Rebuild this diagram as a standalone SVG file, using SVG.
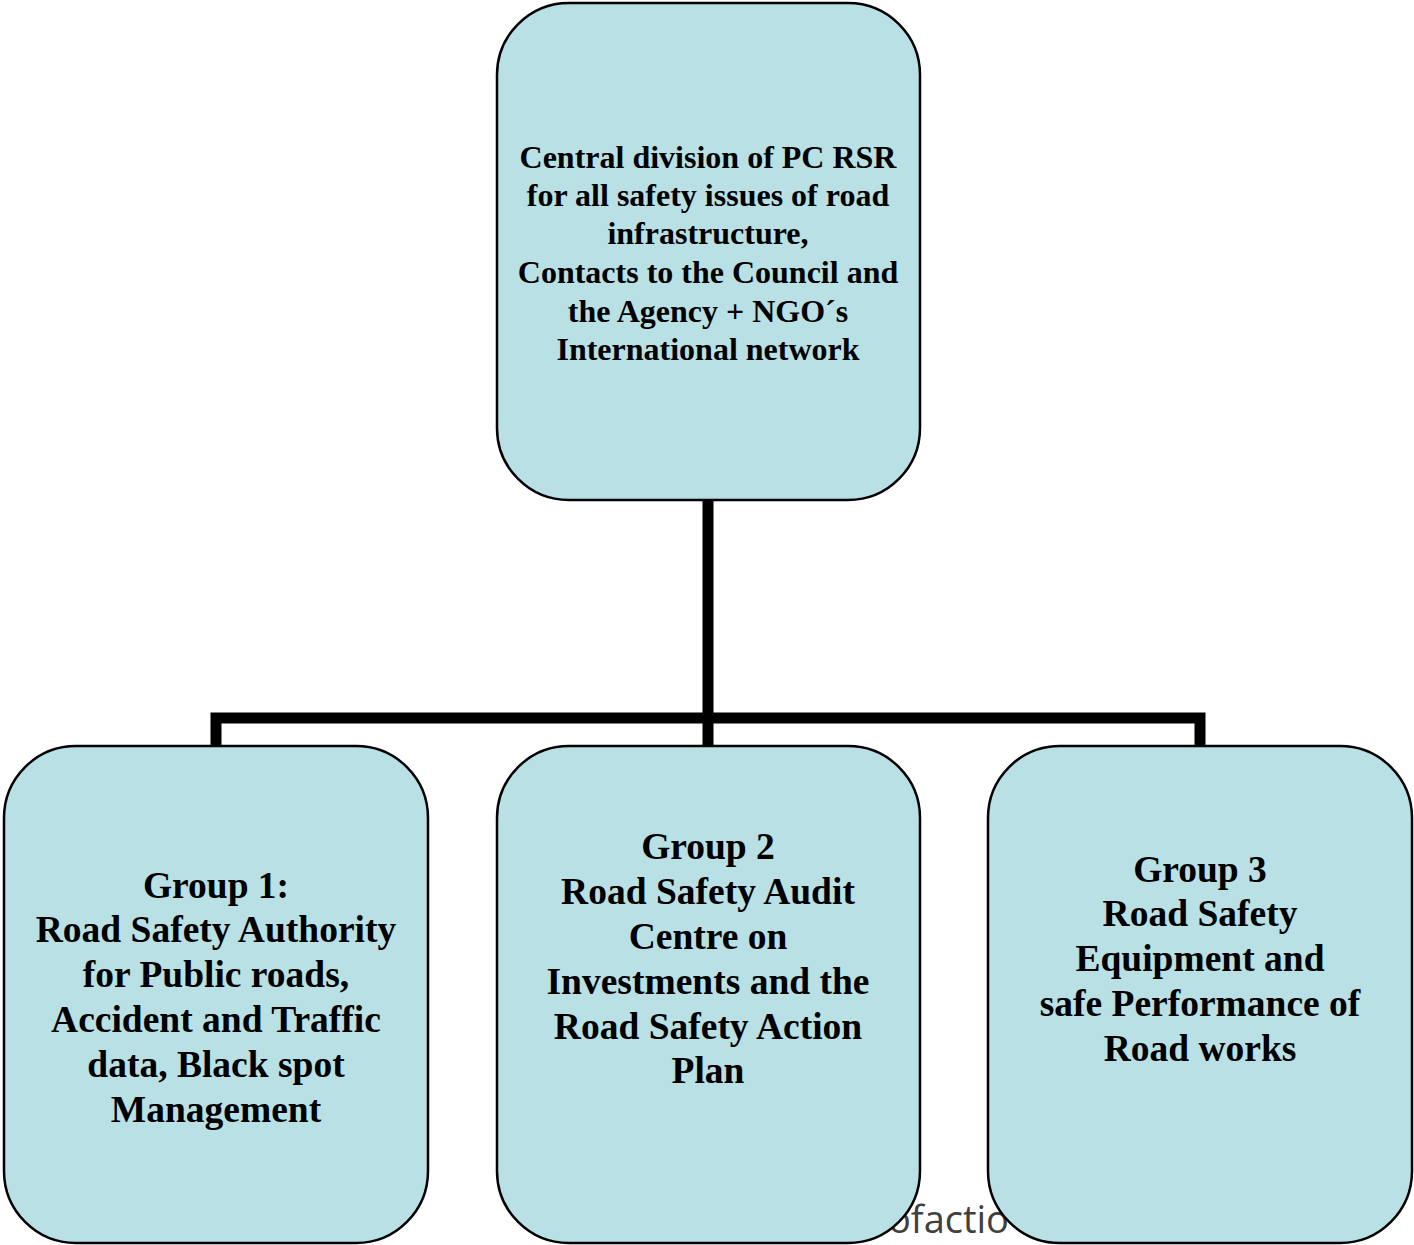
<svg xmlns="http://www.w3.org/2000/svg" width="1414" height="1245" viewBox="0 0 1414 1245">
<style>
.box{fill:#b9e0e4;stroke:#000;stroke-width:2.5}
.t{font-family:"Liberation Serif","Times New Roman",serif;font-weight:bold;fill:#000;text-anchor:middle}
.s{font-size:32px}
.b{font-size:37.5px}
.conn{fill:none;stroke:#000;stroke-width:11;stroke-linejoin:miter}
</style>
<rect width="1414" height="1245" fill="#fff"/>
<text x="888" y="1233" font-family="Open Sans,Liberation Sans,sans-serif" font-size="38" fill="#404040">ofactio</text>
<g id="connectors">
<path class="conn" d="M708 500 V718 M216 746 V718 H1200 V746 M708 718 V746"/>
</g>
<g id="central">
<rect class="box" x="497" y="3" width="423" height="497" rx="72" ry="72"/>
<text class="t s"><tspan x="708" y="168">Central division of PC RSR</tspan><tspan x="708" y="206">for all safety issues of road</tspan><tspan x="708" y="244">infrastructure,</tspan><tspan x="708" y="283">Contacts to the Council and</tspan><tspan x="708" y="322">the Agency + NGO´s</tspan><tspan x="708" y="360">International network</tspan></text>
</g>
<g id="group1">
<rect class="box" x="4" y="746" width="424" height="497" rx="72" ry="72"/>
<text class="t b"><tspan x="216" y="898">Group 1:</tspan><tspan x="216" y="942">Road Safety Authority</tspan><tspan x="216" y="987">for Public roads,</tspan><tspan x="216" y="1032">Accident and Traffic</tspan><tspan x="216" y="1077">data, Black spot</tspan><tspan x="216" y="1122">Management</tspan></text>
</g>
<g id="group2">
<rect class="box" x="497" y="746" width="423" height="497" rx="72" ry="72"/>
<text class="t b"><tspan x="708" y="859">Group 2</tspan><tspan x="708" y="904">Road Safety Audit</tspan><tspan x="708" y="949">Centre on</tspan><tspan x="708" y="994">Investments and the</tspan><tspan x="708" y="1039">Road Safety Action</tspan><tspan x="708" y="1083">Plan</tspan></text>
</g>
<g id="group3">
<rect class="box" x="988" y="746" width="424" height="497" rx="72" ry="72"/>
<text class="t b"><tspan x="1200" y="882">Group 3</tspan><tspan x="1200" y="926">Road Safety</tspan><tspan x="1200" y="971">Equipment and</tspan><tspan x="1200" y="1016">safe Performance of</tspan><tspan x="1200" y="1061">Road works</tspan></text>
</g>
</svg>
